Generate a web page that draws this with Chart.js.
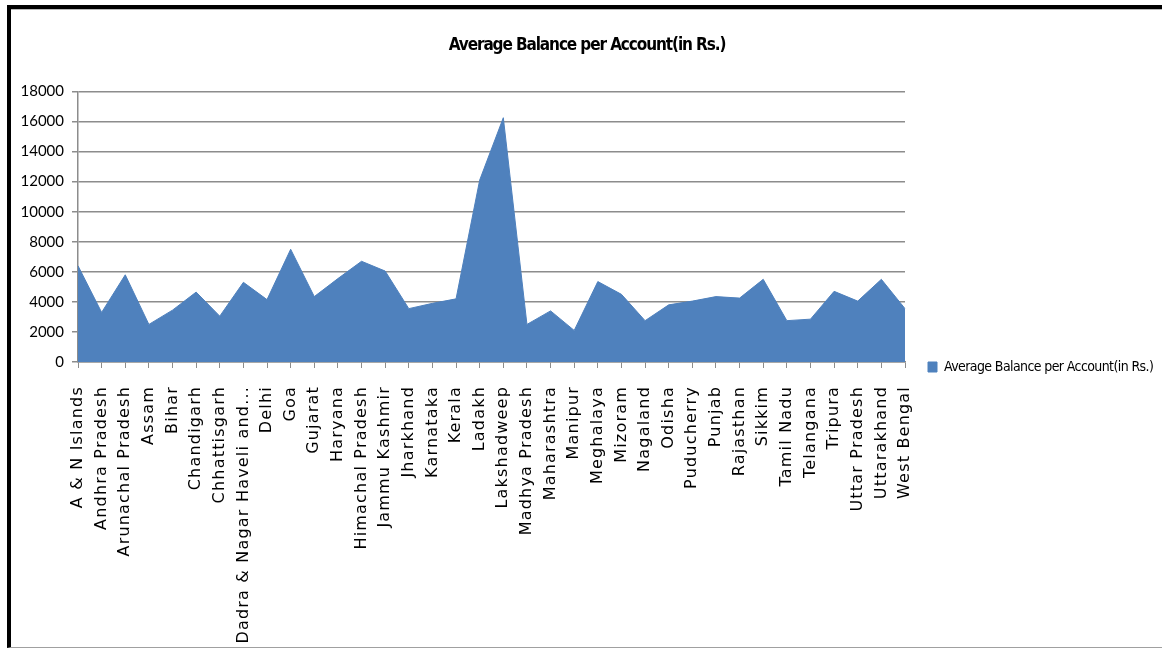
<!DOCTYPE html>
<html>
<head>
<meta charset="utf-8">
<script src="https://cdn.jsdelivr.net/npm/chart.js@4.4.1/dist/chart.umd.min.js"></script>
<style>
  html, body { margin: 0; padding: 0; background: #fff; }
  #frame { position: absolute; left: 7px; top: 5px; width: 1155px; height: 643px;
           border-top: 4px solid #000; border-left: 4px solid #000; border-bottom: 1px solid #a0a0a0; box-sizing: border-box; }
  #frame::after { content: ""; position: absolute; left: 0; top: 0; right: 0; height: 1px; background: #b8b8b8; }
  #c { position: absolute; left: 0; top: 0; }
</style>
</head>
<body>
<div id="frame"></div>
<canvas id="c" width="1162" height="650"></canvas>
<script>
const chartTitle = "Average Balance per Account(in Rs.)";
const seriesName = "Average Balance per Account(in Rs.)";
const categories = [
  "A & N Islands", "Andhra Pradesh", "Arunachal Pradesh", "Assam", "Bihar",
  "Chandigarh", "Chhattisgarh", "Dadra & Nagar Haveli and...", "Delhi", "Goa",
  "Gujarat", "Haryana", "Himachal Pradesh", "Jammu Kashmir", "Jharkhand",
  "Karnataka", "Kerala", "Ladakh", "Lakshadweep", "Madhya Pradesh",
  "Maharashtra", "Manipur", "Meghalaya", "Mizoram", "Nagaland",
  "Odisha", "Puducherry", "Punjab", "Rajasthan", "Sikkim",
  "Tamil Nadu", "Telangana", "Tripura", "Uttar Pradesh", "Uttarakhand",
  "West Bengal"
];
const avgBalance = [
  6400, 3300, 5800, 2500, 3450,
  4650, 3050, 5300, 4150, 7500,
  4350, 5550, 6700, 6050, 3550,
  3900, 4200, 12100, 16250, 2500,
  3400, 2100, 5350, 4500, 2750,
  3800, 4050, 4350, 4250, 5500,
  2750, 2850, 4700, 4050, 5500,
  3550
];
const yMin = 0, yMax = 18000, yStep = 2000;

function withSpacing(obj, method, spacing) {
  const orig = obj[method];
  obj[method] = function (...args) {
    const ctx = this.ctx;
    ctx.save();
    ctx.letterSpacing = spacing;
    const r = orig.apply(this, args);
    ctx.restore();
    return r;
  };
}

const layoutTweaks = {
  id: 'layoutTweaks',
  beforeInit(chart) {
    const origFit = chart.legend.fit;
    chart.legend.fit = function () {
      origFit.call(this);
      this.width = 257;
    };
  },
  afterLayout(chart) {
    const lg = chart.legend;
    lg.top += 42;
    lg.bottom += 42;
    if (!chart._spacingDone) {
      withSpacing(chart.scales.x, 'drawLabels', '1.2px');
      withSpacing(chart.titleBlock, 'draw', '-1.1px');
      withSpacing(chart.legend, 'draw', '-0.6px');
      chart._spacingDone = true;
    }
  }
};

new Chart(document.getElementById('c'), {
  type: 'line',
  data: {
    labels: categories,
    datasets: [{
      label: seriesName,
      data: avgBalance,
      fill: 'origin',
      backgroundColor: '#4F81BD',
      borderColor: '#4F81BD',
      borderWidth: 1,
      pointRadius: 0,
      tension: 0
    }]
  },
  options: {
    responsive: false,
    animation: false,
    layout: { padding: { left: 12, right: 0, top: 0, bottom: 0 } },
    plugins: {
      title: {
        display: true,
        text: chartTitle,
        color: '#000',
        font: { family: '"DejaVu Sans Condensed", Lato, sans-serif', size: 17, weight: 'bold' },
        padding: { top: 35, bottom: 36 }
      },
      legend: {
        position: 'right',
        labels: {
          color: '#000',
          font: { family: '"DejaVu Sans Condensed", Lato, sans-serif', size: 14 },
          boxWidth: 9,
          boxHeight: 10,
          padding: 23
        }
      },
      tooltip: { enabled: false }
    },
    scales: {
      x: {
        type: 'category',
        offset: false,
        afterFit(scale) { scale.height = 288; },
        grid: { drawOnChartArea: false, drawTicks: true, tickLength: 6, color: '#8c8c8c', lineWidth: 1 },
        border: { color: '#8c8c8c', width: 1.5 },
        ticks: {
          autoSkip: false,
          maxRotation: 90,
          minRotation: 90,
          padding: 18,
          color: '#000',
          font: { family: '"DejaVu Sans", Verdana, sans-serif', size: 16 }
        }
      },
      y: {
        min: yMin,
        max: yMax,
        afterFit(scale) { scale.width = 66; },
        grid: { color: '#8c8c8c', lineWidth: 1.5, drawTicks: true, tickLength: 6 },
        border: { color: '#8c8c8c', width: 1.5 },
        ticks: {
          stepSize: yStep,
          padding: 8,
          color: '#000',
          callback: (v) => String(v),
          font: { family: 'Lato, sans-serif', size: 15 }
        }
      }
    }
  },
  plugins: [layoutTweaks]
});
</script>
</body>
</html>
